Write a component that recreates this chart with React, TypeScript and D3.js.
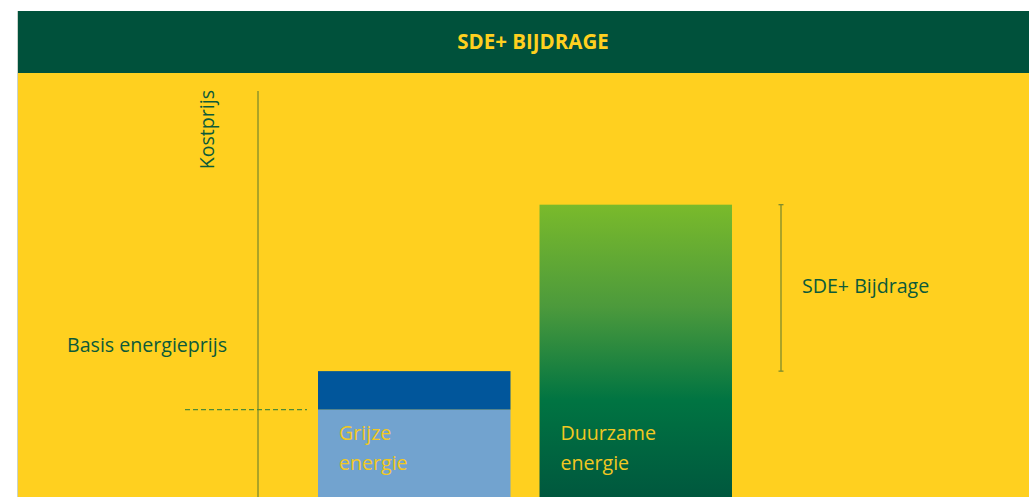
import { useEffect, useRef } from "react";
import * as d3 from "d3";

// waarden (relatieve kostprijs, 0-100)
const categories = ["Grijze energie", "Duurzame energie"];
const barLabels = [["Grijze", "energie"], ["Duurzame", "energie"]];
const basisPrijs = 21.5;
const kostprijs = [31, 72];
const title = "SDE+ BIJDRAGE";

const W = 1029;
const H = 497;

export default function App() {
  const svgRef = useRef<SVGSVGElement>(null);

  useEffect(() => {
    const svg = d3.select(svgRef.current);
    svg.selectAll("*").remove();

    const font = "'Open Sans', sans-serif";
    const darkGreen = "#00513b";
    const yellow = "#ffd01f";
    const textGreen = "#0c5a3a";
    const lineColor = "#7f8c2c";
    const fs = 19.6;

    const defs = svg.append("defs");
    const grad = defs.append("linearGradient")
      .attr("id", "groen")
      .attr("x1", 0).attr("y1", 0).attr("x2", 0).attr("y2", 1);
    grad.append("stop").attr("offset", "0%").attr("stop-color", "#7aba2b");
    grad.append("stop").attr("offset", "35%").attr("stop-color", "#4c9a3c");
    grad.append("stop").attr("offset", "67%").attr("stop-color", "#007442");
    grad.append("stop").attr("offset", "100%").attr("stop-color", "#00583e");

    // achtergrond
    svg.append("rect").attr("x", 17).attr("y", 11).attr("width", 1).attr("height", H - 11).attr("fill", "#c9d3cb");
    svg.append("rect").attr("x", 18).attr("y", 11).attr("width", W - 18).attr("height", H - 11).attr("fill", yellow);
    svg.append("rect").attr("x", 18).attr("y", 11).attr("width", W - 18).attr("height", 62).attr("fill", darkGreen);

    svg.append("text")
      .attr("x", 533).attr("y", 49)
      .attr("text-anchor", "middle")
      .attr("font-family", font).attr("font-weight", 700).attr("font-size", 20.5)
      .attr("fill", yellow)
      .text(title);

    const y = d3.scaleLinear().domain([0, 100]).range([H, 91]);
    const x = d3.scaleBand().domain(categories).range([318, 732]).paddingInner(0.131);

    // as
    svg.append("line")
      .attr("x1", 258).attr("x2", 258)
      .attr("y1", y(0)).attr("y2", y(100))
      .attr("stroke", lineColor).attr("stroke-width", 1.3);

    svg.append("text")
      .attr("transform", `translate(214, ${y(100) - 1}) rotate(-90)`)
      .attr("text-anchor", "end")
      .attr("font-family", font).attr("font-size", fs)
      .attr("fill", textGreen)
      .text("Kostprijs");

    // grijze energie
    const g0 = categories[0];
    svg.append("rect")
      .attr("x", x(g0)!).attr("width", x.bandwidth())
      .attr("y", y(kostprijs[0])).attr("height", y(basisPrijs) - y(kostprijs[0]))
      .attr("fill", "#01569b");
    svg.append("rect")
      .attr("x", x(g0)!).attr("width", x.bandwidth())
      .attr("y", y(basisPrijs)).attr("height", y(0) - y(basisPrijs))
      .attr("fill", "#72a3cf");

    // duurzame energie
    const g1 = categories[1];
    svg.append("rect")
      .attr("x", x(g1)!).attr("width", x.bandwidth())
      .attr("y", y(kostprijs[1])).attr("height", y(0) - y(kostprijs[1]))
      .attr("fill", "url(#groen)");

    // labels in de staven
    categories.forEach((c, i) => {
      const t = svg.append("text")
        .attr("font-family", font).attr("font-size", fs)
        .attr("fill", "#f2c821");
      barLabels[i].forEach((l, j) => {
        t.append("tspan").attr("x", x(c)! + 21).attr("y", 440 + j * 30).text(l);
      });
    });

    // basis energieprijs
    svg.append("line")
      .attr("x1", 185).attr("x2", 307)
      .attr("y1", y(basisPrijs)).attr("y2", y(basisPrijs))
      .attr("stroke", "#4f8a36").attr("stroke-width", 1.2)
      .attr("stroke-dasharray", "5,3");
    svg.append("text")
      .attr("x", 67).attr("y", 352)
      .attr("font-family", font).attr("font-size", fs)
      .attr("fill", textGreen)
      .text("Basis energieprijs");

    // SDE+ bijdrage
    const bx = 781;
    svg.append("line")
      .attr("x1", bx).attr("x2", bx)
      .attr("y1", y(kostprijs[1])).attr("y2", y(kostprijs[0]))
      .attr("stroke", lineColor).attr("stroke-width", 1.3);
    [kostprijs[1], kostprijs[0]].forEach((v) => {
      svg.append("line")
        .attr("x1", bx - 2.5).attr("x2", bx + 2.5)
        .attr("y1", y(v)).attr("y2", y(v))
        .attr("stroke", lineColor).attr("stroke-width", 1.3);
    });
    svg.append("text")
      .attr("x", 802).attr("y", 293)
      .attr("font-family", font).attr("font-size", fs)
      .attr("fill", textGreen)
      .text("SDE+ Bijdrage");
  }, []);

  return (
    <svg
      ref={svgRef}
      width={W}
      height={H}
      style={{ position: "absolute", left: 0, top: 0 }}
    />
  );
}
